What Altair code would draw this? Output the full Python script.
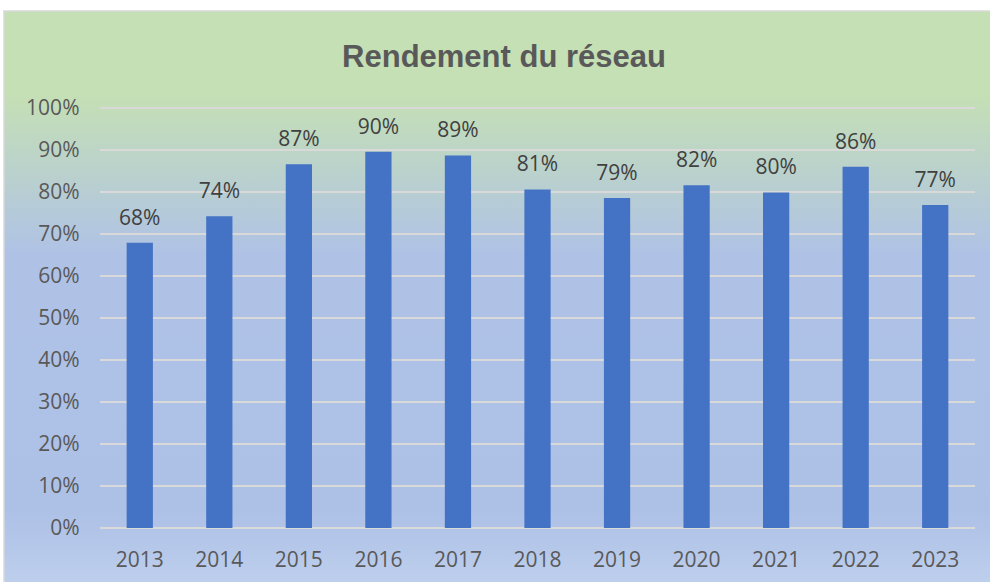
import altair as alt
import pandas as pd

# Data
years = ["2013", "2014", "2015", "2016", "2017", "2018", "2019", "2020", "2021", "2022", "2023"]
rendement = [0.679, 0.742, 0.866, 0.896, 0.887, 0.806, 0.786, 0.816, 0.799, 0.860, 0.769]
tick_values = [0.0, 0.1, 0.2, 0.3, 0.4, 0.5, 0.6, 0.7, 0.8, 0.9, 1.0]
chart_title = "Rendement du réseau"

df = pd.DataFrame({"annee": years, "rendement": rendement})
grid_df = pd.DataFrame({"v": tick_values})
one_df = pd.DataFrame({"k": [0]})

W, H = 875, 420
PAD_L, PAD_T = 100, 108

AXIS_COLOR = "#595959"
FONT = "Open Sans"

gradient = alt.LinearGradient(
    gradient="linear",
    x1=0, x2=0, y1=0, y2=1,
    stops=[
        alt.GradientStop(offset=0.0, color="#C5E0B4"),
        alt.GradientStop(offset=0.14, color="#C5E0B4"),
        alt.GradientStop(offset=0.42, color="#AFC2E6"),
        alt.GradientStop(offset=0.86, color="#ADC0E6"),
        alt.GradientStop(offset=1.0, color="#C0D1EE"),
    ],
)

bg = alt.Chart(one_df).mark_rect(
    fill=gradient, stroke="#D9D9D9", strokeWidth=1.5
).encode(
    x=alt.value(4 - PAD_L),
    x2=alt.value(990 - PAD_L + 10),
    y=alt.value(11 - PAD_T),
    y2=alt.value(582 - PAD_T + 10),
)

title_mark = alt.Chart(one_df).mark_text(
    text=chart_title,
    font="Liberation Sans",
    fontSize=31,
    fontWeight="bold",
    color=AXIS_COLOR,
    align="center",
    baseline="alphabetic",
).encode(
    x=alt.value(504 - PAD_L),
    y=alt.value(67 - PAD_T),
)

y_scale = alt.Scale(domain=[0, 1], nice=False)
x_scale = alt.Scale(paddingInner=0.67, paddingOuter=0.335)

y_axis = alt.Axis(
    title=None, values=tick_values, format=".0%", domain=False,
    ticks=False, grid=False, labelPadding=21, labelFont=FONT,
    labelFontSize=21, labelColor=AXIS_COLOR, zindex=2,
)
x_axis = alt.Axis(
    title=None, labelAngle=0, domain=False, ticks=False,
    labelPadding=21, labelFont=FONT, labelFontSize=21,
    labelColor=AXIS_COLOR, grid=False, zindex=2,
)

grid = alt.Chart(grid_df).mark_rule(color="#D9D9D9", strokeWidth=2).encode(
    y=alt.Y("v:Q", scale=y_scale, axis=y_axis)
)

bars = alt.Chart(df).mark_bar(color="#4472C4").encode(
    x=alt.X("annee:N", scale=x_scale, sort=years, axis=x_axis),
    y=alt.Y("rendement:Q", scale=y_scale, axis=y_axis),
)

labels = alt.Chart(df).mark_text(
    dy=-18, baseline="alphabetic", font=FONT, fontSize=21, color="#404040"
).encode(
    x=alt.X("annee:N", scale=x_scale, sort=years, axis=x_axis),
    y=alt.Y("rendement:Q", scale=y_scale, axis=y_axis),
    text=alt.Text("rendement:Q", format=".0%"),
)

chart = alt.layer(bg, title_mark, grid, bars, labels).properties(
    width=W,
    height=H,
    padding={"left": PAD_L, "top": PAD_T, "right": 990 - PAD_L - W, "bottom": 582 - PAD_T - H},
    autosize=alt.AutoSizeParams(type="none"),
    background="white",
).configure_view(stroke=None)

chart.save("out.html", embed_options={"renderer": "svg", "actions": False})
